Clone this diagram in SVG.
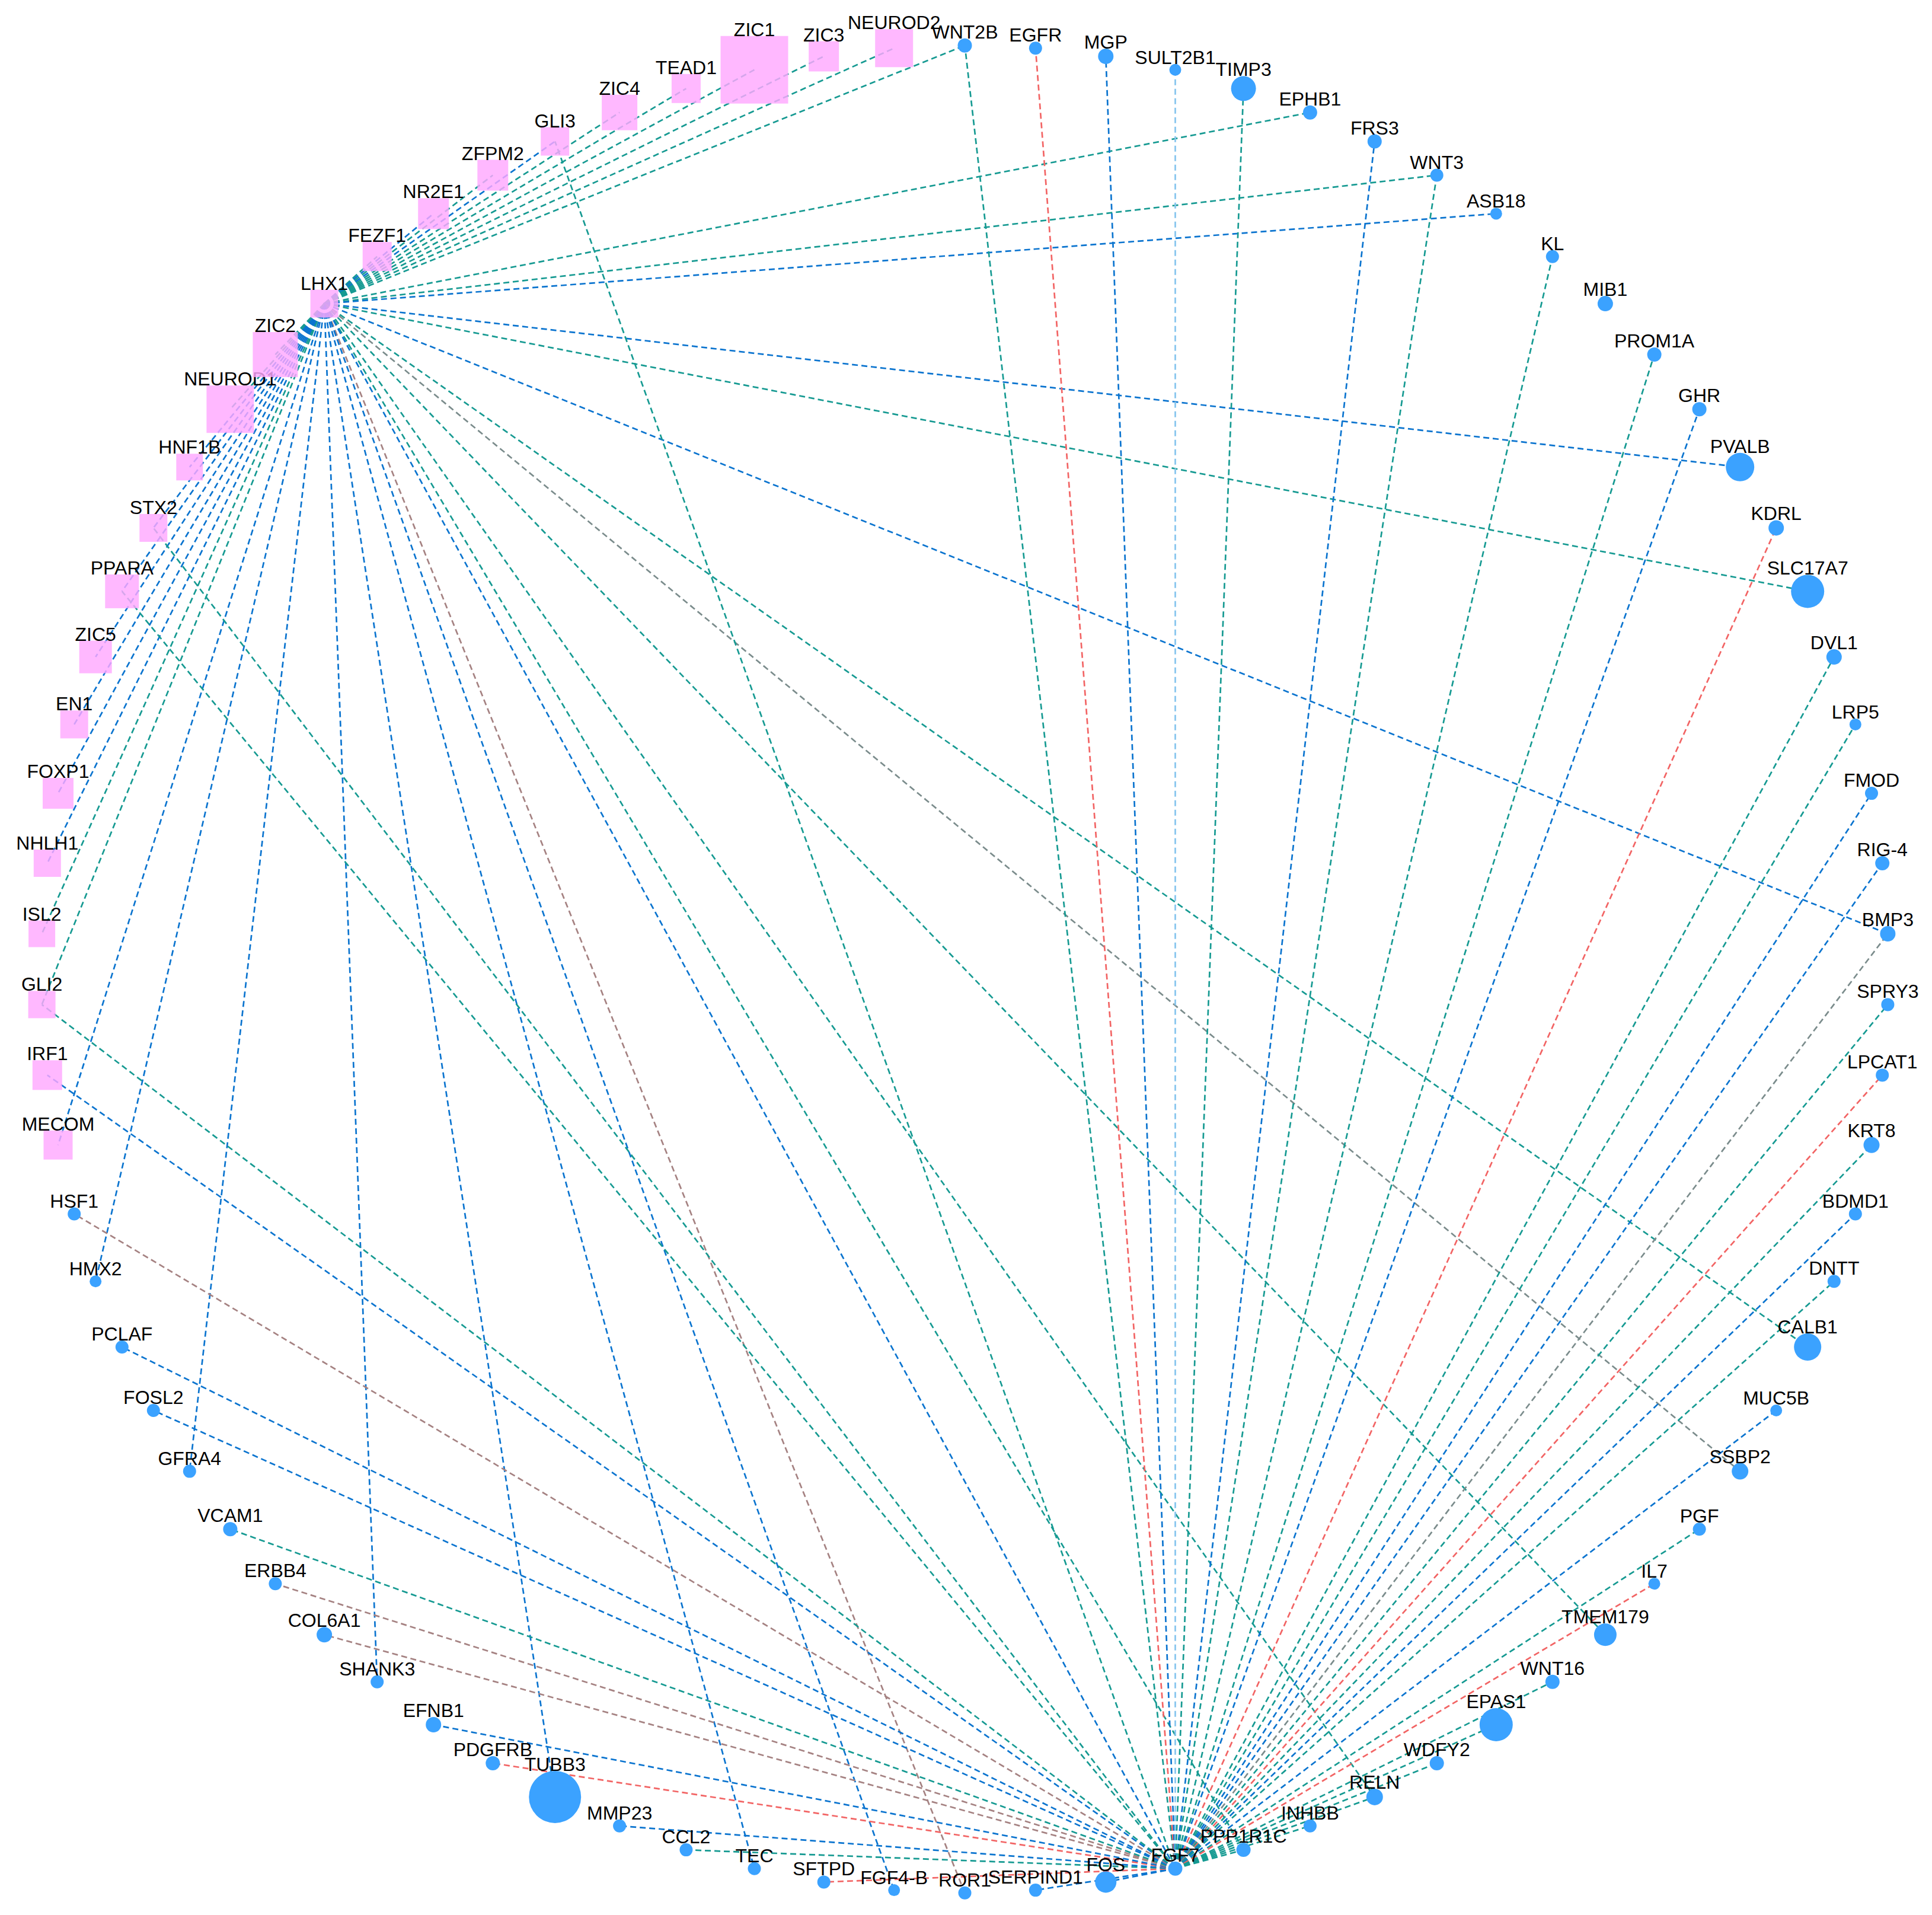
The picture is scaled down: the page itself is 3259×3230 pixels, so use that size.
<svg xmlns="http://www.w3.org/2000/svg" width="3259" height="3230" viewBox="0 0 3259 3230">
<style>
.e{fill:none;stroke-width:2.7;stroke-dasharray:10 6}
.t{stroke:#169a92}.b{stroke:#0b74cf}.r{stroke:#f26464}.br{stroke:#a58282}.g{stroke:#7b8c8c}.lb{stroke:#86c5ee}
.c{fill:#3ba2ff}.s{fill:#ffa8ff;fill-opacity:0.82}
text{font-family:"Liberation Sans",Arial,sans-serif;font-size:32px;fill:#000;text-anchor:middle}
</style>
<rect width="3259" height="3230" fill="#fff"/>
<g id="edges">
<line class="e t" x1="547.1" y1="512.1" x2="636.2" y2="432.7"/>
<line class="e b" x1="547.1" y1="512.1" x2="731.2" y2="360.4"/>
<line class="e t" x1="547.1" y1="512.1" x2="831.3" y2="295.5"/>
<line class="e b" x1="547.1" y1="512.1" x2="936.2" y2="238.5"/>
<line class="e t" x1="547.1" y1="512.1" x2="1045.1" y2="189.7"/>
<line class="e t" x1="547.1" y1="512.1" x2="1157.4" y2="149.3"/>
<line class="e t" x1="547.1" y1="512.1" x2="1272.5" y2="117.7"/>
<line class="e t" x1="547.1" y1="512.1" x2="1389.7" y2="95.0"/>
<line class="e t" x1="547.1" y1="512.1" x2="1508.2" y2="81.3"/>
<line class="e t" x1="547.1" y1="512.1" x2="1627.5" y2="76.7"/>
<line class="e t" x1="547.1" y1="512.1" x2="2209.9" y2="189.7"/>
<line class="e t" x1="547.1" y1="512.1" x2="2423.7" y2="295.5"/>
<line class="e b" x1="547.1" y1="512.1" x2="2523.8" y2="360.4"/>
<line class="e b" x1="547.1" y1="512.1" x2="2935.2" y2="787.8"/>
<line class="e t" x1="547.1" y1="512.1" x2="3049.2" y2="997.4"/>
<line class="e b" x1="547.1" y1="512.1" x2="3184.4" y2="1575.0"/>
<line class="e t" x1="547.1" y1="512.1" x2="3049.2" y2="2272.0"/>
<line class="e g" x1="547.1" y1="512.1" x2="2935.2" y2="2481.6"/>
<line class="e t" x1="547.1" y1="512.1" x2="2707.9" y2="2757.3"/>
<line class="e t" x1="547.1" y1="512.1" x2="2318.8" y2="3030.9"/>
<line class="e t" x1="547.1" y1="512.1" x2="2097.6" y2="3120.1"/>
<line class="e b" x1="547.1" y1="512.1" x2="1982.5" y2="3151.7"/>
<line class="e br" x1="547.1" y1="512.1" x2="1627.5" y2="3192.7"/>
<line class="e b" x1="547.1" y1="512.1" x2="1508.2" y2="3188.1"/>
<line class="e b" x1="547.1" y1="512.1" x2="1272.5" y2="3151.7"/>
<line class="e b" x1="547.1" y1="512.1" x2="936.2" y2="3030.9"/>
<line class="e b" x1="547.1" y1="512.1" x2="636.2" y2="2836.7"/>
<line class="e b" x1="547.1" y1="512.1" x2="319.8" y2="2481.6"/>
<line class="e b" x1="547.1" y1="512.1" x2="161.2" y2="2161.3"/>
<line class="e b" x1="547.1" y1="512.1" x2="98.0" y2="1931.3"/>
<line class="e t" x1="547.1" y1="512.1" x2="70.6" y2="1694.4"/>
<line class="e t" x1="547.1" y1="512.1" x2="70.6" y2="1575.0"/>
<line class="e b" x1="547.1" y1="512.1" x2="79.8" y2="1456.0"/>
<line class="e b" x1="547.1" y1="512.1" x2="98.0" y2="1338.1"/>
<line class="e b" x1="547.1" y1="512.1" x2="125.2" y2="1221.9"/>
<line class="e b" x1="547.1" y1="512.1" x2="161.2" y2="1108.1"/>
<line class="e b" x1="547.1" y1="512.1" x2="205.8" y2="997.4"/>
<line class="e b" x1="547.1" y1="512.1" x2="258.8" y2="890.4"/>
<line class="e b" x1="547.1" y1="512.1" x2="319.8" y2="787.8"/>
<line class="e t" x1="547.1" y1="512.1" x2="388.4" y2="690.2"/>
<line class="e t" x1="547.1" y1="512.1" x2="464.4" y2="598.1"/>
<line class="e t" x1="1982.5" y1="3151.7" x2="1627.5" y2="76.7"/>
<line class="e r" x1="1982.5" y1="3151.7" x2="1746.8" y2="81.3"/>
<line class="e b" x1="1982.5" y1="3151.7" x2="1865.3" y2="95.0"/>
<line class="e lb" x1="1982.5" y1="3151.7" x2="1982.5" y2="117.7"/>
<line class="e t" x1="1982.5" y1="3151.7" x2="2097.6" y2="149.3"/>
<line class="e b" x1="1982.5" y1="3151.7" x2="2318.8" y2="238.5"/>
<line class="e t" x1="1982.5" y1="3151.7" x2="2423.7" y2="295.5"/>
<line class="e t" x1="1982.5" y1="3151.7" x2="2618.8" y2="432.7"/>
<line class="e t" x1="1982.5" y1="3151.7" x2="2790.6" y2="598.1"/>
<line class="e b" x1="1982.5" y1="3151.7" x2="2866.6" y2="690.2"/>
<line class="e r" x1="1982.5" y1="3151.7" x2="2996.2" y2="890.4"/>
<line class="e t" x1="1982.5" y1="3151.7" x2="3093.8" y2="1108.1"/>
<line class="e t" x1="1982.5" y1="3151.7" x2="3129.8" y2="1221.9"/>
<line class="e b" x1="1982.5" y1="3151.7" x2="3157.0" y2="1338.1"/>
<line class="e b" x1="1982.5" y1="3151.7" x2="3175.2" y2="1456.0"/>
<line class="e g" x1="1982.5" y1="3151.7" x2="3184.4" y2="1575.0"/>
<line class="e t" x1="1982.5" y1="3151.7" x2="3184.4" y2="1694.4"/>
<line class="e r" x1="1982.5" y1="3151.7" x2="3175.2" y2="1813.4"/>
<line class="e t" x1="1982.5" y1="3151.7" x2="3157.0" y2="1931.3"/>
<line class="e b" x1="1982.5" y1="3151.7" x2="3129.8" y2="2047.5"/>
<line class="e t" x1="1982.5" y1="3151.7" x2="3093.8" y2="2161.3"/>
<line class="e b" x1="1982.5" y1="3151.7" x2="2996.2" y2="2379.0"/>
<line class="e t" x1="1982.5" y1="3151.7" x2="2866.6" y2="2579.2"/>
<line class="e r" x1="1982.5" y1="3151.7" x2="2790.6" y2="2671.3"/>
<line class="e t" x1="1982.5" y1="3151.7" x2="2618.8" y2="2836.7"/>
<line class="e t" x1="1982.5" y1="3151.7" x2="2523.8" y2="2909.0"/>
<line class="e t" x1="1982.5" y1="3151.7" x2="2423.7" y2="2973.9"/>
<line class="e t" x1="1982.5" y1="3151.7" x2="2318.8" y2="3030.9"/>
<line class="e t" x1="1982.5" y1="3151.7" x2="2209.9" y2="3079.7"/>
<line class="e t" x1="1982.5" y1="3151.7" x2="2097.6" y2="3120.1"/>
<line class="e b" x1="1982.5" y1="3151.7" x2="1865.3" y2="3174.4"/>
<line class="e b" x1="1982.5" y1="3151.7" x2="1746.8" y2="3188.1"/>
<line class="e r" x1="1982.5" y1="3151.7" x2="1389.7" y2="3174.4"/>
<line class="e t" x1="1982.5" y1="3151.7" x2="1157.4" y2="3120.1"/>
<line class="e b" x1="1982.5" y1="3151.7" x2="1045.1" y2="3079.7"/>
<line class="e r" x1="1982.5" y1="3151.7" x2="831.3" y2="2973.9"/>
<line class="e b" x1="1982.5" y1="3151.7" x2="731.2" y2="2909.0"/>
<line class="e br" x1="1982.5" y1="3151.7" x2="547.1" y2="2757.3"/>
<line class="e br" x1="1982.5" y1="3151.7" x2="464.4" y2="2671.3"/>
<line class="e t" x1="1982.5" y1="3151.7" x2="388.4" y2="2579.2"/>
<line class="e b" x1="1982.5" y1="3151.7" x2="258.8" y2="2379.0"/>
<line class="e b" x1="1982.5" y1="3151.7" x2="205.8" y2="2272.0"/>
<line class="e br" x1="1982.5" y1="3151.7" x2="125.2" y2="2047.5"/>
<line class="e b" x1="1982.5" y1="3151.7" x2="79.8" y2="1813.4"/>
<line class="e t" x1="1982.5" y1="3151.7" x2="70.6" y2="1694.4"/>
<line class="e t" x1="1982.5" y1="3151.7" x2="205.8" y2="997.4"/>
<line class="e t" x1="1982.5" y1="3151.7" x2="258.8" y2="890.4"/>
<line class="e t" x1="1982.5" y1="3151.7" x2="936.2" y2="238.5"/>
</g>
<g id="nodes">
<g id="n-WNT2B"><circle class="c" cx="1627.5" cy="76.7" r="12"/><text x="1627.5" y="64.7">WNT2B</text></g>
<g id="n-EGFR"><circle class="c" cx="1746.8" cy="81.3" r="11"/><text x="1746.8" y="70.3">EGFR</text></g>
<g id="n-MGP"><circle class="c" cx="1865.3" cy="95.0" r="13"/><text x="1865.3" y="82">MGP</text></g>
<g id="n-SULT2B1"><circle class="c" cx="1982.5" cy="117.7" r="10"/><text x="1982.5" y="107.7">SULT2B1</text></g>
<g id="n-TIMP3"><circle class="c" cx="2097.6" cy="149.3" r="21"/><text x="2097.6" y="128.3">TIMP3</text></g>
<g id="n-EPHB1"><circle class="c" cx="2209.9" cy="189.7" r="12"/><text x="2209.9" y="177.7">EPHB1</text></g>
<g id="n-FRS3"><circle class="c" cx="2318.8" cy="238.5" r="12"/><text x="2318.8" y="226.5">FRS3</text></g>
<g id="n-WNT3"><circle class="c" cx="2423.7" cy="295.5" r="11"/><text x="2423.7" y="284.5">WNT3</text></g>
<g id="n-ASB18"><circle class="c" cx="2523.8" cy="360.4" r="10"/><text x="2523.8" y="350.4">ASB18</text></g>
<g id="n-KL"><circle class="c" cx="2618.8" cy="432.7" r="11"/><text x="2618.8" y="421.7">KL</text></g>
<g id="n-MIB1"><circle class="c" cx="2707.9" cy="512.1" r="13"/><text x="2707.9" y="499.1">MIB1</text></g>
<g id="n-PROM1A"><circle class="c" cx="2790.6" cy="598.1" r="12"/><text x="2790.6" y="586.1">PROM1A</text></g>
<g id="n-GHR"><circle class="c" cx="2866.6" cy="690.2" r="12"/><text x="2866.6" y="678.2">GHR</text></g>
<g id="n-PVALB"><circle class="c" cx="2935.2" cy="787.8" r="24"/><text x="2935.2" y="763.8">PVALB</text></g>
<g id="n-KDRL"><circle class="c" cx="2996.2" cy="890.4" r="13"/><text x="2996.2" y="877.4">KDRL</text></g>
<g id="n-SLC17A7"><circle class="c" cx="3049.2" cy="997.4" r="28"/><text x="3049.2" y="969.4">SLC17A7</text></g>
<g id="n-DVL1"><circle class="c" cx="3093.8" cy="1108.1" r="13"/><text x="3093.8" y="1095.1">DVL1</text></g>
<g id="n-LRP5"><circle class="c" cx="3129.8" cy="1221.9" r="10"/><text x="3129.8" y="1211.9">LRP5</text></g>
<g id="n-FMOD"><circle class="c" cx="3157.0" cy="1338.1" r="11"/><text x="3157.0" y="1327.1">FMOD</text></g>
<g id="n-RIG-4"><circle class="c" cx="3175.2" cy="1456.0" r="12"/><text x="3175.2" y="1444">RIG-4</text></g>
<g id="n-BMP3"><circle class="c" cx="3184.4" cy="1575.0" r="13"/><text x="3184.4" y="1562">BMP3</text></g>
<g id="n-SPRY3"><circle class="c" cx="3184.4" cy="1694.4" r="11"/><text x="3184.4" y="1683.4">SPRY3</text></g>
<g id="n-LPCAT1"><circle class="c" cx="3175.2" cy="1813.4" r="11"/><text x="3175.2" y="1802.4">LPCAT1</text></g>
<g id="n-KRT8"><circle class="c" cx="3157.0" cy="1931.3" r="13.5"/><text x="3157.0" y="1917.8">KRT8</text></g>
<g id="n-BDMD1"><circle class="c" cx="3129.8" cy="2047.5" r="11"/><text x="3129.8" y="2036.5">BDMD1</text></g>
<g id="n-DNTT"><circle class="c" cx="3093.8" cy="2161.3" r="11"/><text x="3093.8" y="2150.3">DNTT</text></g>
<g id="n-CALB1"><circle class="c" cx="3049.2" cy="2272.0" r="23"/><text x="3049.2" y="2249">CALB1</text></g>
<g id="n-MUC5B"><circle class="c" cx="2996.2" cy="2379.0" r="10"/><text x="2996.2" y="2369">MUC5B</text></g>
<g id="n-SSBP2"><circle class="c" cx="2935.2" cy="2481.6" r="14"/><text x="2935.2" y="2467.6">SSBP2</text></g>
<g id="n-PGF"><circle class="c" cx="2866.6" cy="2579.2" r="11"/><text x="2866.6" y="2568.2">PGF</text></g>
<g id="n-IL7"><circle class="c" cx="2790.6" cy="2671.3" r="10"/><text x="2790.6" y="2661.3">IL7</text></g>
<g id="n-TMEM179"><circle class="c" cx="2707.9" cy="2757.3" r="19"/><text x="2707.9" y="2738.3">TMEM179</text></g>
<g id="n-WNT16"><circle class="c" cx="2618.8" cy="2836.7" r="12"/><text x="2618.8" y="2824.7">WNT16</text></g>
<g id="n-EPAS1"><circle class="c" cx="2523.8" cy="2909.0" r="28"/><text x="2523.8" y="2881">EPAS1</text></g>
<g id="n-WDFY2"><circle class="c" cx="2423.7" cy="2973.9" r="12"/><text x="2423.7" y="2961.9">WDFY2</text></g>
<g id="n-RELN"><circle class="c" cx="2318.8" cy="3030.9" r="14"/><text x="2318.8" y="3016.9">RELN</text></g>
<g id="n-INHBB"><circle class="c" cx="2209.9" cy="3079.7" r="11"/><text x="2209.9" y="3068.7">INHBB</text></g>
<g id="n-PPP1R1C"><circle class="c" cx="2097.6" cy="3120.1" r="12"/><text x="2097.6" y="3108.1">PPP1R1C</text></g>
<g id="n-FGF7"><circle class="c" cx="1982.5" cy="3151.7" r="12"/><text x="1982.5" y="3139.7">FGF7</text></g>
<g id="n-FOS"><circle class="c" cx="1865.3" cy="3174.4" r="18"/><text x="1865.3" y="3156.4">FOS</text></g>
<g id="n-SERPIND1"><circle class="c" cx="1746.8" cy="3188.1" r="11"/><text x="1746.8" y="3177.1">SERPIND1</text></g>
<g id="n-ROR1"><circle class="c" cx="1627.5" cy="3192.7" r="11"/><text x="1627.5" y="3181.7">ROR1</text></g>
<g id="n-FGF4-B"><circle class="c" cx="1508.2" cy="3188.1" r="10"/><text x="1508.2" y="3178.1">FGF4-B</text></g>
<g id="n-SFTPD"><circle class="c" cx="1389.7" cy="3174.4" r="11"/><text x="1389.7" y="3163.4">SFTPD</text></g>
<g id="n-TEC"><circle class="c" cx="1272.5" cy="3151.7" r="11"/><text x="1272.5" y="3140.7">TEC</text></g>
<g id="n-CCL2"><circle class="c" cx="1157.4" cy="3120.1" r="11"/><text x="1157.4" y="3109.1">CCL2</text></g>
<g id="n-MMP23"><circle class="c" cx="1045.1" cy="3079.7" r="11"/><text x="1045.1" y="3068.7">MMP23</text></g>
<g id="n-TUBB3"><circle class="c" cx="936.2" cy="3030.9" r="44"/><text x="936.2" y="2986.9">TUBB3</text></g>
<g id="n-PDGFRB"><circle class="c" cx="831.3" cy="2973.9" r="12"/><text x="831.3" y="2961.9">PDGFRB</text></g>
<g id="n-EFNB1"><circle class="c" cx="731.2" cy="2909.0" r="13"/><text x="731.2" y="2896">EFNB1</text></g>
<g id="n-SHANK3"><circle class="c" cx="636.2" cy="2836.7" r="11"/><text x="636.2" y="2825.7">SHANK3</text></g>
<g id="n-COL6A1"><circle class="c" cx="547.1" cy="2757.3" r="13"/><text x="547.1" y="2744.3">COL6A1</text></g>
<g id="n-ERBB4"><circle class="c" cx="464.4" cy="2671.3" r="11"/><text x="464.4" y="2660.3">ERBB4</text></g>
<g id="n-VCAM1"><circle class="c" cx="388.4" cy="2579.2" r="12"/><text x="388.4" y="2567.2">VCAM1</text></g>
<g id="n-GFRA4"><circle class="c" cx="319.8" cy="2481.6" r="11"/><text x="319.8" y="2470.6">GFRA4</text></g>
<g id="n-FOSL2"><circle class="c" cx="258.8" cy="2379.0" r="11"/><text x="258.8" y="2368">FOSL2</text></g>
<g id="n-PCLAF"><circle class="c" cx="205.8" cy="2272.0" r="11"/><text x="205.8" y="2261">PCLAF</text></g>
<g id="n-HMX2"><circle class="c" cx="161.2" cy="2161.3" r="10"/><text x="161.2" y="2151.3">HMX2</text></g>
<g id="n-HSF1"><circle class="c" cx="125.2" cy="2047.5" r="11"/><text x="125.2" y="2036.5">HSF1</text></g>
<g id="n-MECOM"><rect class="s" x="73.5" y="1906.8" width="49" height="49"/><text x="98.0" y="1906.8">MECOM</text></g>
<g id="n-IRF1"><rect class="s" x="54.8" y="1788.4" width="50" height="50"/><text x="79.8" y="1788.4">IRF1</text></g>
<g id="n-GLI2"><rect class="s" x="47.6" y="1671.4" width="46" height="46"/><text x="70.6" y="1671.4">GLI2</text></g>
<g id="n-ISL2"><rect class="s" x="48.1" y="1552.5" width="45" height="45"/><text x="70.6" y="1552.5">ISL2</text></g>
<g id="n-NHLH1"><rect class="s" x="56.8" y="1433" width="46" height="46"/><text x="79.8" y="1433">NHLH1</text></g>
<g id="n-FOXP1"><rect class="s" x="72" y="1312.1" width="52" height="52"/><text x="98.0" y="1312.1">FOXP1</text></g>
<g id="n-EN1"><rect class="s" x="101.7" y="1198.4" width="47" height="47"/><text x="125.2" y="1198.4">EN1</text></g>
<g id="n-ZIC5"><rect class="s" x="133.7" y="1080.6" width="55" height="55"/><text x="161.2" y="1080.6">ZIC5</text></g>
<g id="n-PPARA"><rect class="s" x="177.3" y="968.9" width="57" height="57"/><text x="205.8" y="968.9">PPARA</text></g>
<g id="n-STX2"><rect class="s" x="235.3" y="866.9" width="47" height="47"/><text x="258.8" y="866.9">STX2</text></g>
<g id="n-HNF1B"><rect class="s" x="297.3" y="765.3" width="45" height="45"/><text x="319.8" y="765.3">HNF1B</text></g>
<g id="n-NEUROD1"><rect class="s" x="348.4" y="650.2" width="80" height="80"/><text x="388.4" y="650.2">NEUROD1</text></g>
<g id="n-ZIC2"><rect class="s" x="426.4" y="560.1" width="76" height="76"/><text x="464.4" y="560.1">ZIC2</text></g>
<g id="n-LHX1"><rect class="s" x="523.6" y="488.6" width="47" height="47"/><text x="547.1" y="488.6">LHX1</text></g>
<g id="n-FEZF1"><rect class="s" x="611.7" y="408.2" width="49" height="49"/><text x="636.2" y="408.2">FEZF1</text></g>
<g id="n-NR2E1"><rect class="s" x="705.2" y="334.4" width="52" height="52"/><text x="731.2" y="334.4">NR2E1</text></g>
<g id="n-ZFPM2"><rect class="s" x="805.3" y="269.5" width="52" height="52"/><text x="831.3" y="269.5">ZFPM2</text></g>
<g id="n-GLI3"><rect class="s" x="912.2" y="214.5" width="48" height="48"/><text x="936.2" y="214.5">GLI3</text></g>
<g id="n-ZIC4"><rect class="s" x="1015.1" y="159.7" width="60" height="60"/><text x="1045.1" y="159.7">ZIC4</text></g>
<g id="n-TEAD1"><rect class="s" x="1132.9" y="124.8" width="49" height="49"/><text x="1157.4" y="124.8">TEAD1</text></g>
<g id="n-ZIC1"><rect class="s" x="1215.5" y="60.7" width="114" height="114"/><text x="1272.5" y="60.7">ZIC1</text></g>
<g id="n-ZIC3"><rect class="s" x="1364.2" y="69.5" width="51" height="51"/><text x="1389.7" y="69.5">ZIC3</text></g>
<g id="n-NEUROD2"><rect class="s" x="1476.2" y="49.3" width="64" height="64"/><text x="1508.2" y="49.3">NEUROD2</text></g>
</g>
</svg>
